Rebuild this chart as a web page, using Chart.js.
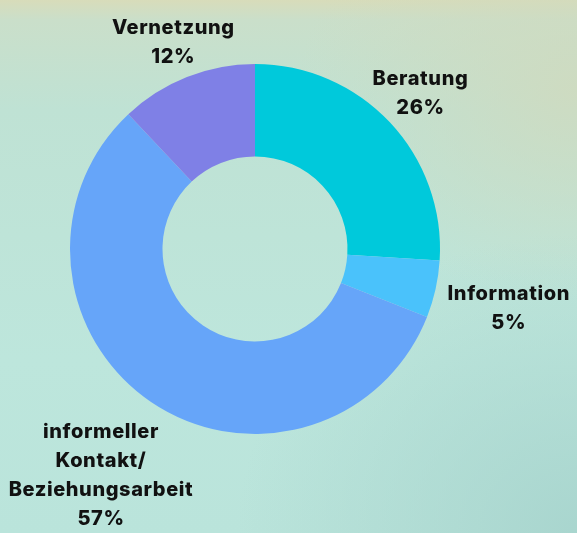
<!DOCTYPE html>
<html>
<head>
<meta charset="utf-8">
<script src="https://cdn.jsdelivr.net/npm/chart.js@4.4.1/dist/chart.umd.min.js"></script>
<style>
  html, body { margin: 0; padding: 0; }
  body {
    width: 577px;
    height: 533px;
    overflow: hidden;
    background:
      radial-gradient(ellipse 280px 210px at 577px 90px, rgba(208, 218, 190, 0.85), rgba(208, 218, 190, 0) 100%),
      radial-gradient(ellipse 340px 300px at 577px 533px, rgba(168, 213, 206, 0.95), rgba(168, 213, 206, 0) 100%),
      linear-gradient(180deg, #d8dcba 0px, #cadfca 20px, #bfe2d4 110px, #bde6dc 360px, #bae4db 533px);
  }
  #wrap { position: relative; width: 577px; height: 533px; }
</style>
</head>
<body>
<div id="wrap"><canvas id="chart"></canvas></div>
<script>
// Daten
const categories = ['Beratung', 'Information', 'informeller Kontakt/ Beziehungsarbeit', 'Vernetzung'];
const labelLines = [['Beratung'], ['Information'], ['informeller', 'Kontakt/', 'Beziehungsarbeit'], ['Vernetzung']];
const shares = [26, 5, 57, 12];
const colors = ['#00c9db', '#4ac2fb', '#66a5f9', '#7f80e6'];

// Beschriftungen außerhalb des Rings, an der Mitte jedes Segments
const outerLabels = {
  id: 'outerLabels',
  afterDatasetsDraw(chart, args, opts) {
    const ctx = chart.ctx;
    const meta = chart.getDatasetMeta(0);
    ctx.save();
    ctx.font = opts.font;
    ctx.letterSpacing = opts.letterSpacing;
    ctx.fillStyle = opts.color;
    ctx.textAlign = 'center';
    ctx.textBaseline = 'middle';
    meta.data.forEach((arc, i) => {
      const p = arc.getProps(['x', 'y', 'startAngle', 'endAngle', 'outerRadius'], true);
      const mid = (p.startAngle + p.endAngle) / 2;
      const r = p.outerRadius + opts.distance[i];
      const cx = p.x + Math.cos(mid) * r;
      const cy = p.y + Math.sin(mid) * r + opts.shiftY[i];
      const lines = labelLines[i].concat([shares[i] + '%']);
      const top = cy - (lines.length - 1) * opts.lineHeight / 2;
      lines.forEach((t, j) => ctx.fillText(t, cx, top + j * opts.lineHeight));
    });
    ctx.restore();
  }
};

new Chart(document.getElementById('chart'), {
  type: 'doughnut',
  data: {
    labels: categories,
    datasets: [{
      data: shares,
      backgroundColor: colors,
      borderWidth: 0
    }]
  },
  options: {
    responsive: true,
    maintainAspectRatio: false,
    animation: false,
    cutout: '50%',
    layout: { padding: { left: 70, right: 137, top: 64, bottom: 99 } },
    plugins: {
      legend: { display: false },
      tooltip: { enabled: false },
      outerLabels: {
        font: '800 20px Inter',
        letterSpacing: '0.6px',
        color: '#111111',
        lineHeight: 29,
        distance: [42, 75, 89, 37],
        shiftY: [0, 3, 0, 0]
      }
    }
  },
  plugins: [outerLabels]
});
</script>
</body>
</html>
